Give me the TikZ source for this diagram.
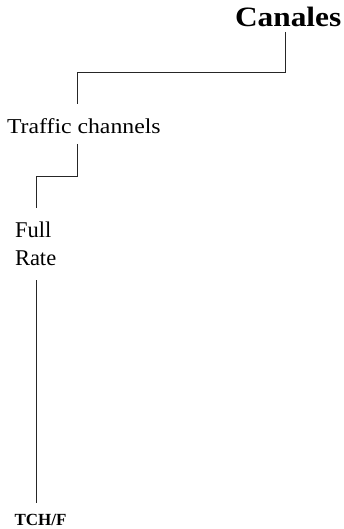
\documentclass[tikz,border=0pt]{standalone}
\usepackage{fontspec}
\setmainfont{Liberation Serif}
\newfontfamily\wideserif[FakeStretch=1.12]{Liberation Serif}
\tikzset{
  label/.style={anchor=base west, inner sep=0pt, outer sep=0pt},
  link/.style={draw=black!85, line width=0.9pt}
}
\begin{document}
\begin{tikzpicture}[x=1pt, y=-1pt]
  \useasboundingbox (0,0) rectangle (344,529);
  % tree labels (a two-line node sits on the baseline of its last line)
  \node[label, font=\wideserif\bfseries\fontsize{28}{32}\selectfont] (canales) at (235,27) {Canales};
  \node[label, font=\wideserif\fontsize{21.2}{26}\selectfont] (traffic) at (7,134) {Traffic channels};
  \node[label, font=\fontsize{22.5}{28}\selectfont, align=left] (full) at (15,265) {Full\\Rate};
  \node[label, font=\bfseries\fontsize{17}{20}\selectfont] (tchf) at (14.5,525) {TCH/F};
  % connector end points
  \coordinate (c-out) at (285,32);
  \coordinate (t-in) at (77,104);
  \coordinate (t-out) at (77,144);
  \coordinate (f-in) at (36,208);
  \coordinate (f-out) at (36,280);
  \coordinate (x-in) at (36,503);
  % connectors
  \draw[link] (c-out) -- ++(0,40) -| (t-in);
  \draw[link] (t-out) -- ++(0,32) -| (f-in);
  \draw[link] (f-out) -- (x-in);
\end{tikzpicture}
\end{document}
